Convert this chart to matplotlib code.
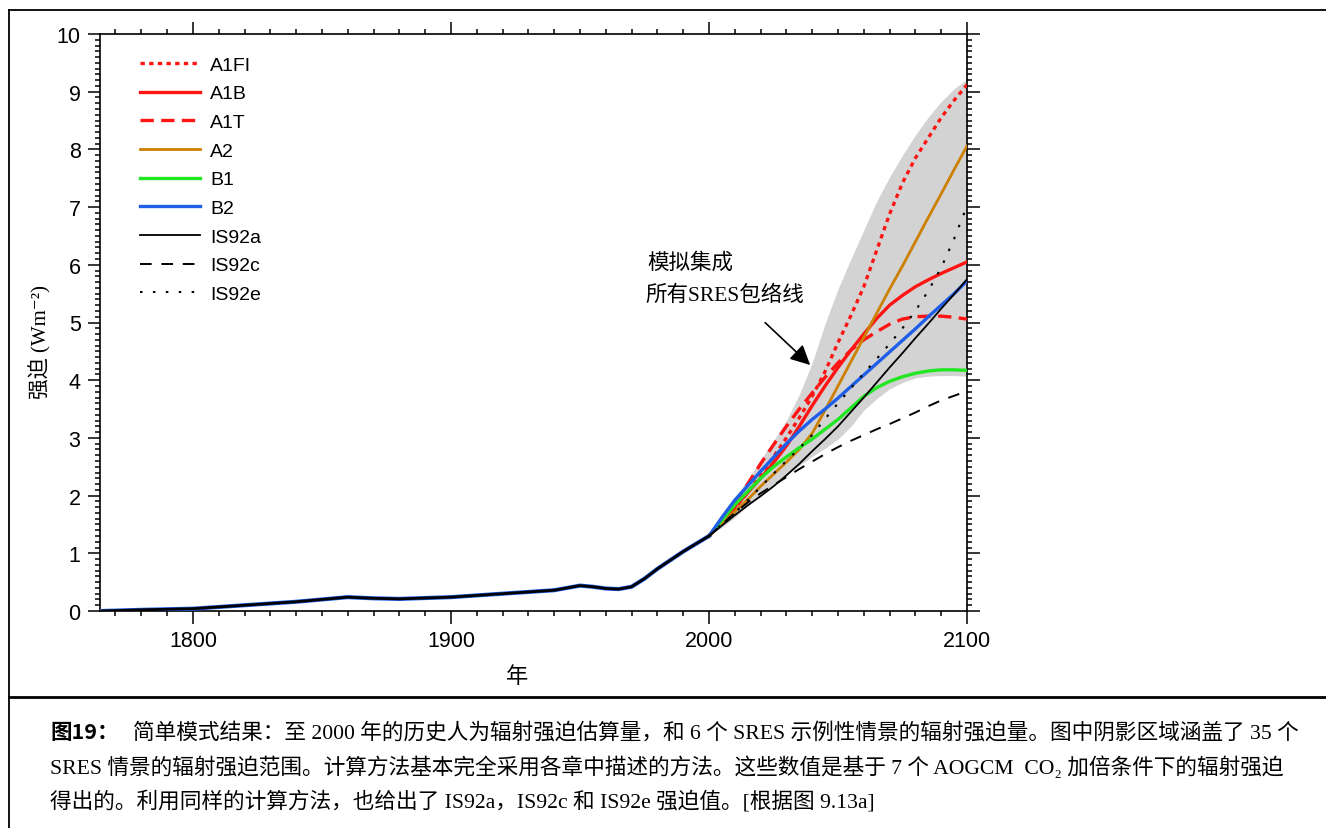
import matplotlib
matplotlib.use('Agg')
import matplotlib.pyplot as plt
from matplotlib.lines import Line2D
from matplotlib.ticker import MultipleLocator

# historical forcing (shared by all scenarios)
hist_years = [1765, 1780, 1800, 1820, 1840, 1860, 1870, 1880, 1900, 1920, 1940,
              1950, 1955, 1960, 1965, 1970, 1975, 1980, 1990, 2000]
hist_vals = [0.0, 0.02, 0.04, 0.10, 0.16, 0.24, 0.22, 0.21, 0.24, 0.30, 0.36,
             0.44, 0.42, 0.39, 0.38, 0.42, 0.56, 0.73, 1.03, 1.30]

# scenarios 2000-2100, every 5 years
proj_years = [2000, 2005, 2010, 2015, 2020, 2025, 2030, 2035, 2040, 2045, 2050,
              2055, 2060, 2065, 2070, 2075, 2080, 2085, 2090, 2095, 2100]
a1fi = [1.30, 1.52, 1.78, 2.05, 2.35, 2.67, 3.00, 3.35, 3.72, 4.15, 4.65,
        5.12, 5.62, 6.25, 6.88, 7.42, 7.85, 8.20, 8.55, 8.85, 9.12]
a1b = [1.30, 1.55, 1.80, 2.05, 2.30, 2.57, 2.86, 3.20, 3.56, 3.90, 4.22,
       4.52, 4.80, 5.07, 5.30, 5.47, 5.62, 5.74, 5.85, 5.95, 6.05]
a1t = [1.30, 1.58, 1.88, 2.20, 2.55, 2.88, 3.20, 3.50, 3.78, 4.05, 4.30,
       4.52, 4.70, 4.84, 4.97, 5.06, 5.10, 5.11, 5.11, 5.09, 5.06]
a2 = [1.30, 1.52, 1.72, 1.93, 2.16, 2.37, 2.58, 2.80, 3.08, 3.48, 3.90,
      4.32, 4.74, 5.16, 5.58, 5.98, 6.40, 6.82, 7.23, 7.65, 8.06]
b1 = [1.30, 1.57, 1.84, 2.07, 2.30, 2.50, 2.67, 2.83, 2.98, 3.15, 3.32,
      3.52, 3.72, 3.87, 3.98, 4.06, 4.12, 4.16, 4.18, 4.18, 4.17]
b2 = [1.30, 1.62, 1.92, 2.17, 2.42, 2.66, 2.90, 3.12, 3.32, 3.50, 3.69,
      3.89, 4.09, 4.29, 4.49, 4.69, 4.89, 5.10, 5.30, 5.50, 5.72]
is92a = [1.30, 1.48, 1.66, 1.83, 1.99, 2.16, 2.35, 2.55, 2.77, 2.98, 3.20,
         3.45, 3.70, 3.96, 4.22, 4.47, 4.73, 4.98, 5.24, 5.49, 5.75]
is92c = [1.30, 1.50, 1.70, 1.88, 2.04, 2.18, 2.32, 2.46, 2.59, 2.72, 2.84,
         2.95, 3.05, 3.15, 3.24, 3.34, 3.44, 3.55, 3.65, 3.73, 3.81]
is92e = [1.30, 1.50, 1.70, 1.92, 2.15, 2.38, 2.60, 2.82, 3.05, 3.33, 3.60,
         3.86, 4.12, 4.37, 4.63, 4.90, 5.20, 5.55, 5.95, 6.45, 7.02]

# envelope of all SRES scenarios
env_upper = [1.30, 1.62, 1.95, 2.28, 2.62, 2.95, 3.30, 3.75, 4.30, 4.98, 5.58,
             6.10, 6.60, 7.10, 7.52, 7.90, 8.25, 8.56, 8.83, 9.05, 9.22]
env_lower = [1.30, 1.45, 1.62, 1.82, 2.00, 2.20, 2.37, 2.52, 2.68, 2.82, 2.98,
             3.20, 3.48, 3.68, 3.85, 3.96, 4.04, 4.07, 4.08, 4.08, 4.07]

labels = ['A1FI', 'A1B', 'A1T', 'A2', 'B1', 'B2', 'IS92a', 'IS92c', 'IS92e']

RED = '#ff1414'
ORANGE = '#cc7f00'
GREEN = '#22e622'
BLUE = '#1f5fe8'

fig = plt.figure(figsize=(13.26, 8.29), dpi=100)
ax = fig.add_axes([100/1326, 1-612/829, 867/1326, 577/829])

ax.fill_between(proj_years, env_lower, env_upper, color='#d3d3d3', lw=0, zorder=1)

ax.plot(hist_years, hist_vals, color=BLUE, lw=3, zorder=3)
ax.plot(hist_years, hist_vals, color='black', lw=2, zorder=4)

styles = [
    (a1fi, RED, 2.4, (0, (1.3, 1.3))),
    (a1b, RED, 2.4, '-'),
    (a1t, RED, 2.4, (0, (4, 2.2))),
    (a2, ORANGE, 2.0, '-'),
    (b1, GREEN, 2.4, '-'),
    (b2, BLUE, 2.4, '-'),
    (is92a, 'black', 1.3, '-'),
    (is92c, 'black', 1.4, (0, (6, 5))),
    (is92e, 'black', 1.5, (0, (1.2, 5))),
]
handles = []
for (vals, col, lw, ls), lab in zip(styles, labels):
    h, = ax.plot(proj_years, vals, color=col, lw=lw, ls=ls, label=lab, zorder=3)
    handles.append(h)

ax.set_xlim(1764, 2100)
ax.set_ylim(0, 10)
ax.xaxis.set_major_locator(MultipleLocator(100))
ax.xaxis.set_minor_locator(MultipleLocator(10))
ax.yaxis.set_major_locator(MultipleLocator(1))
ax.yaxis.set_minor_locator(MultipleLocator(0.1))
ax.tick_params(which='both', direction='out', top=True, right=True, width=1.1)
ax.tick_params(which='major', length=9, pad=5, labelsize=15.5)
ax.tick_params(which='minor', length=3.5)
for lab in ax.get_xticklabels() + ax.get_yticklabels():
    lab.set_family('Liberation Sans')
for s in ax.spines.values():
    s.set_linewidth(1.2)

cjk = ['Liberation Serif', 'DejaVu Serif', 'Noto Sans CJK SC']

fig.text(40/1326, 1-342/829, '强迫 (Wm⁻²)', fontsize=15, family=cjk,
         rotation=90, ha='center', va='center')
fig.text(517/1326, 1-677/829, '年', fontsize=16, family=['Noto Sans CJK SC'],
         ha='center', va='center')

leg = ax.legend(handles=handles, loc='upper left', frameon=False,
                bbox_to_anchor=(140/1326, 1-57/829), bbox_transform=fig.transFigure,
                prop={'family': 'Liberation Sans', 'size': 14},
                handlelength=3.1, handletextpad=0.5, labelspacing=0.57, borderpad=0,
                borderaxespad=0)

ax.text(1976.3, 6.05, '模拟集成', fontsize=15.5, family=cjk, va='center', ha='left')
ax.text(1975.2, 5.49, '所有SRES包络线', fontsize=15.5, family=cjk, va='center', ha='left')
ax.annotate('', xy=(2040, 4.23), xytext=(2021, 5.03),
            arrowprops=dict(arrowstyle='-|>', color='black', lw=1.2, mutation_scale=30))

# outer frame
fig.add_artist(Line2D([9/1326, 1], [1-11/829, 1-11/829], color='black', lw=1.3,
                      transform=fig.transFigure))
fig.add_artist(Line2D([9/1326, 9/1326], [1-11/829, 0], color='black', lw=1.3,
                      transform=fig.transFigure))
fig.add_artist(Line2D([9/1326, 1], [1-698/829, 1-698/829], color='black', lw=2,
                      transform=fig.transFigure))

# caption
cap1 = '简单模式结果：至 2000 年的历史人为辐射强迫估算量，和 6 个 SRES 示例性情景的辐射强迫量。图中阴影区域涵盖了 35 个'
cap2 = 'SRES 情景的辐射强迫范围。计算方法基本完全采用各章中描述的方法。这些数值是基于 7 个 AOGCM  CO₂ 加倍条件下的辐射强迫'
cap3 = '得出的。利用同样的计算方法，也给出了 IS92a，IS92c 和 IS92e 强迫值。[根据图 9.13a]'
fig.text(50/1326, 1-733/829, '图19：', fontsize=15.5, family=['Noto Sans CJK SC'],
         weight='bold', va='center')
fig.text(133/1326, 1-733/829, cap1, fontsize=15.6, family=cjk, va='center')
fig.text(50/1326, 1-768/829, cap2, fontsize=15.6, family=cjk, va='center')
fig.text(50/1326, 1-802/829, cap3, fontsize=15.6, family=cjk, va='center')

fig.savefig('out.png', dpi=100)
